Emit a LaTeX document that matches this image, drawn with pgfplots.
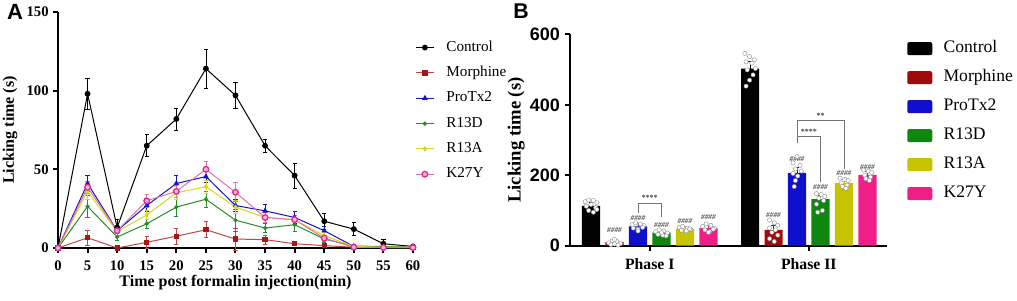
\documentclass[border=0pt]{standalone}
\usepackage{fontspec}
\setmainfont{Liberation Serif}
\newfontfamily\arialfont{Liberation Sans}
\usepackage{pgfplots}
\pgfplotsset{compat=1.18}
\definecolor{cMor}{RGB}{170,20,20}
\definecolor{cMorL}{RGB}{190,70,70}
\definecolor{cPro}{RGB}{20,20,200}
\definecolor{cR13D}{RGB}{40,140,40}
\definecolor{cR13A}{RGB}{215,215,30}
\definecolor{cK27}{RGB}{230,40,140}
\definecolor{cK27L}{RGB}{225,110,175}
\definecolor{bMor}{RGB}{160,10,10}
\definecolor{bPro}{RGB}{15,15,205}
\definecolor{bR13D}{RGB}{15,135,15}
\definecolor{bR13A}{RGB}{200,195,0}
\definecolor{bK27}{RGB}{240,30,135}
\pgfplotsset{
  ebar/.style={error bars/.cd, y dir=both, y explicit,
     error mark options={rotate=90, mark size=1.6pt, line width=0.6pt},
     error bar style={line width=0.6pt}},
  boxleg/.style={legend image code/.code={\draw[##1, draw=none, rounded corners=1.5pt] (0pt,-4.9pt) rectangle (18.75pt,4.9pt);}},
  dots/.style={only marks, mark=*, mark size=1.6pt, mark options={fill=white, draw=black!45, line width=0.3pt}, forget plot},
}
\newcommand{\hh}{\fontsize{5.5}{6}\selectfont\bfseries\itshape}
\begin{document}
\begin{tikzpicture}
\path[use as bounding box] (0,0) rectangle (762.75pt,225pt);
% ---------------- Panel A ----------------
\begin{axis}[
  at={(43.5pt,39pt)}, anchor=south west, scale only axis,
  width=266.25pt, height=177pt,
  xmin=0, xmax=60, ymin=0, ymax=150, clip=false,
  axis x line*=bottom, axis y line*=left,
  axis line style={-, line width=2pt},
  xtick={0,5,...,60}, ytick={0,50,100,150},
  tick align=outside, major tick length=3.5pt,
  tick style={line width=1.5pt, black},
  /pgf/number format/assume math mode=true,
  ticklabel style={font=\fontsize{11}{12}\selectfont\bfseries},
  xticklabel style={yshift=-2.5pt},
  xlabel={Time post formalin injection(min)}, ylabel={Licking time (s)},
  label style={font=\fontsize{12}{14}\selectfont\bfseries},
  xlabel style={yshift=3.5pt},
  legend style={at={(1.006,0.88)}, anchor=north west, draw=none, fill=none,
    inner sep=0pt, font=\fontsize{11.4}{13}\selectfont, row sep=8.5pt,
    nodes={inner ysep=0pt, inner xsep=9pt, text height=8pt, text depth=2.5pt}},
  legend cell align=left,
  legend image code/.code={\draw[mark repeat=2, mark phase=2, #1] plot coordinates {(0pt,0pt) (6.75pt,0pt) (13.5pt,0pt)};},
]
\addplot[black, line width=0.75pt, mark=*, mark size=1.8pt, ebar] table[x=t, y=m, y error=e] {
t m e
0 0 0.5
5 98 10
10 13 5
15 65 7
20 82 7
25 114 12.5
30 97 8
35 65 4
40 46 8
45 17 5
50 12 4
55 2.7 2.5
60 1 1
};
\addlegendentry{Control}
\addplot[cMorL, line width=0.75pt, mark=square*, mark size=1.6pt, mark options={fill=cMor, draw=cMor}, ebar] table[x=t, y=m, y error=e] {
t m e
0 0 0.3
5 6.5 5
10 0 0.5
15 3.6 4
20 7.5 5
25 11.6 5
30 5.7 7
35 5.3 3
40 2.7 1
45 1.5 1
50 0.5 0.5
55 0.3 0.3
60 0.3 0.3
};
\addlegendentry{Morphine}
\addplot[cPro, line width=0.75pt, mark=triangle*, mark size=1.8pt, ebar] table[x=t, y=m, y error=e] {
t m e
0 0 0.3
5 41 5
10 11 3
15 27 4
20 41 5
25 45.4 4
30 27 4
35 23.6 4
40 19.4 4
45 11 3
50 1 1
55 0.5 0.5
60 0.5 0.5
};
\addlegendentry{ProTx2}
\addplot[cR13D, line width=0.75pt, mark=*, mark size=1.2pt, ebar] table[x=t, y=m, y error=e] {
t m e
0 0 0.3
5 26.4 7
10 7 2
15 15.4 3
20 26 6
25 31 5
30 17.7 7
35 12.7 3
40 14.8 4
45 5.7 2
50 1.2 0.5
55 1 0.5
60 0.5 0.5
};
\addlegendentry{R13D}
\addplot[cR13A, line width=0.75pt, mark=diamond*, mark size=1.5pt, ebar] table[x=t, y=m, y error=e] {
t m e
0 0 0.3
5 36 5
10 10.5 3
15 21 3
20 35 4
25 39 4
30 26 4
35 19.4 3
40 18 3
45 7.8 2
50 1 0.5
55 0.5 0.5
60 0.5 0.5
};
\addlegendentry{R13A}
\addplot[cK27L, line width=0.75pt, mark=*, mark size=2.1pt, mark options={fill=cK27L!50, draw=cK27, line width=1pt}, ebar] table[x=t, y=m, y error=e] {
t m e
0 0 0.3
5 38.6 4
10 11 3
15 30 4
20 36 4
25 50 5
30 35.4 6
35 19.4 3
40 18 3
45 6.3 2
50 0.5 0.5
55 0.3 0.3
60 0.3 0.3
};
\addlegendentry{K27Y}
\end{axis}
% ---------------- Panel B ----------------
\begin{axis}[
  at={(427.5pt,40.7pt)}, anchor=south west, scale only axis,
  width=237.75pt, height=158.55pt,
  xmin=-0.894, xmax=12.6, ymin=0, ymax=600, clip=false,
  axis x line*=bottom, axis y line*=left,
  axis line style={-, line width=1.5pt},
  xtick={2.5,9.27}, xticklabels={Phase I, Phase II},
  ytick={0,200,400,600},
  tick align=outside, major tick length=4pt,
  tick style={line width=1.5pt, black},
  /pgf/number format/assume math mode=true,
  yticklabel style={font=\arialfont\fontsize{13.5}{15}\selectfont\bfseries},
  xticklabel style={font=\fontsize{11.8}{13}\selectfont\bfseries, yshift=-2pt},
  ylabel={Licking time (s)},
  ylabel style={font=\fontsize{14}{16}\selectfont\bfseries, yshift=-3pt},
  legend style={at={(1.063,0.973)}, anchor=north west, draw=none, fill=none,
    inner sep=0pt, font=\fontsize{13.2}{15}\selectfont, row sep=9.25pt,
    nodes={inner ysep=0pt, inner xsep=8.5pt, text height=9.5pt, text depth=3pt}},
  legend cell align=left,
]
\addplot[ybar, bar width=0.77, bar shift=0pt, fill=black, draw=none, boxleg, error bars/error bar style={black}, ebar] coordinates {(0,113) +- (0,10) (6.77,503) +- (0,20)};
\addlegendentry{Control}
\addplot[ybar, bar width=0.77, bar shift=0pt, fill=bMor, draw=none, boxleg, error bars/error bar style={bMor}, ebar] coordinates {(1,10) +- (0,5) (7.77,45) +- (0,12)};
\addlegendentry{Morphine}
\addplot[ybar, bar width=0.77, bar shift=0pt, fill=bPro, draw=none, boxleg, error bars/error bar style={bPro}, ebar] coordinates {(2,55) +- (0,8) (8.77,207) +- (0,15)};
\addlegendentry{ProTx2}
\addplot[ybar, bar width=0.77, bar shift=0pt, fill=bR13D, draw=none, boxleg, error bars/error bar style={bR13D}, ebar] coordinates {(3,37) +- (0,6) (9.77,132) +- (0,12)};
\addlegendentry{R13D}
\addplot[ybar, bar width=0.77, bar shift=0pt, fill=bR13A, draw=none, boxleg, error bars/error bar style={bR13A}, ebar] coordinates {(4,48) +- (0,6) (10.77,178) +- (0,10)};
\addlegendentry{R13A}
\addplot[ybar, bar width=0.77, bar shift=0pt, fill=bK27, draw=none, boxleg, error bars/error bar style={bK27}, ebar] coordinates {(5,50) +- (0,8) (11.77,201) +- (0,9)};
\addlegendentry{K27Y}
% individual animals
\addplot[dots] coordinates {(-0.25,125) (-0.1,130) (0.1,128) (0.25,122) (-0.2,112) (0,117) (0.2,108) (-0.1,100) (0.1,95) (0.25,103)};
\addplot[dots] coordinates {(0.75,8) (0.9,14) (1.1,12) (1.25,6) (0.85,3) (1.0,5) (1.15,2) (1,18)};
\addplot[dots] coordinates {(1.75,60) (1.9,65) (2.1,62) (2.25,57) (1.8,50) (2.0,47) (2.2,52) (2.0,42)};
\addplot[dots] coordinates {(2.75,40) (2.9,45) (3.1,42) (3.25,36) (2.85,32) (3.05,30) (3.2,28) (3.0,37)};
\addplot[dots] coordinates {(3.75,52) (3.9,55) (4.1,50) (4.25,46) (3.85,44) (4.05,42) (4.2,48)};
\addplot[dots] coordinates {(4.75,55) (4.9,62) (5.1,58) (5.25,50) (4.85,45) (5.05,40) (5.2,47) (5.0,38)};
\addplot[dots] coordinates {(6.55,546) (6.75,537) (6.95,528) (6.6,522) (6.85,518) (7.0,503) (6.65,499) (6.9,485) (6.75,470) (6.6,453)};
\addplot[dots] coordinates {(7.6,73) (7.8,65) (7.95,58) (7.6,50) (7.85,45) (7.7,38) (7.95,30) (7.6,20) (7.8,12)};
\addplot[dots] coordinates {(8.77,253) (8.6,235) (8.9,228) (8.7,218) (8.95,212) (8.6,205) (8.8,198) (8.7,185) (8.65,168)};
\addplot[dots] coordinates {(9.6,148) (9.8,145) (9.95,140) (9.7,135) (9.9,128) (9.6,118) (9.85,100) (9.65,95)};
\addplot[dots] coordinates {(10.6,192) (10.8,188) (10.95,185) (10.65,178) (10.9,172) (10.7,168) (10.85,163)};
\addplot[dots] coordinates {(11.6,215) (11.8,212) (11.95,208) (11.65,200) (11.9,195) (11.7,190) (11.85,185)};
% significance marks
\node[font=\hh, text=black!70] at (axis cs:1,44) {\#\#\#\#};
\node[font=\hh, text=black!70] at (axis cs:2,78) {\#\#\#\#};
\node[font=\hh, text=black!70] at (axis cs:3,59) {\#\#\#\#};
\node[font=\hh, text=black!70] at (axis cs:4,69) {\#\#\#\#};
\node[font=\hh, text=black!70] at (axis cs:5,80) {\#\#\#\#};
\node[font=\hh, text=black!70] at (axis cs:7.77,87) {\#\#\#\#};
\node[font=\hh, text=black!70] at (axis cs:8.77,245) {\#\#\#\#};
\node[font=\hh, text=black!70] at (axis cs:9.77,167) {\#\#\#\#};
\node[font=\hh, text=black!70] at (axis cs:10.77,205) {\#\#\#\#};
\node[font=\hh, text=black!70] at (axis cs:11.77,224) {\#\#\#\#};
\draw[black!55, line width=0.6pt] (axis cs:2,92) -- (axis cs:2,120) -- (axis cs:3,120) -- (axis cs:3,82);
\node[font=\fontsize{6}{6}\selectfont\bfseries, text=black!75] at (axis cs:2.5,135) {****};
\draw[black!55, line width=0.6pt] (axis cs:8.77,309) -- (axis cs:9.77,309) -- (axis cs:9.77,180);
\draw[black!55, line width=0.6pt] (axis cs:8.77,292) -- (axis cs:8.77,357) -- (axis cs:10.77,357) -- (axis cs:10.77,218);
\node[font=\fontsize{6}{6}\selectfont\bfseries, text=black!75] at (axis cs:9.27,322) {****};
\node[font=\fontsize{6}{6}\selectfont\bfseries, text=black!75] at (axis cs:9.77,370) {**};
\end{axis}
\node[font=\arialfont\fontsize{16.5}{18}\selectfont\bfseries] at (11.25pt,216pt) {A};
\node[font=\arialfont\fontsize{16}{18}\selectfont\bfseries] at (390.75pt,216.75pt) {B};
\end{tikzpicture}
\end{document}
